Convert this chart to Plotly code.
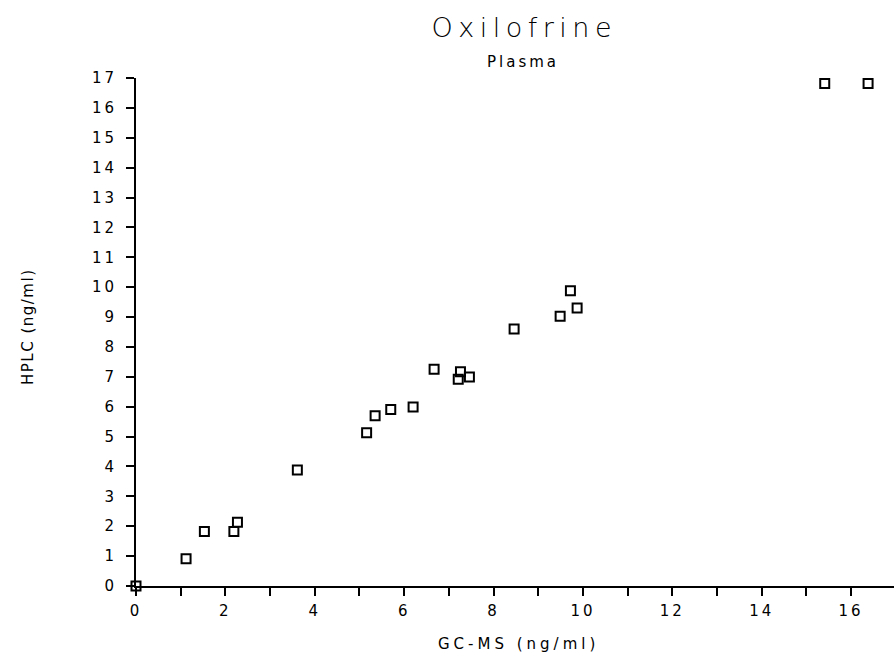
import plotly.graph_objects as go

# GC-MS vs HPLC oxilofrine concentrations in plasma (ng/ml)
gcms = [0.0, 1.12, 1.53, 2.19, 2.27, 3.61, 5.16, 5.35, 5.70, 6.20, 6.67,
        7.26, 7.21, 7.46, 8.46, 9.49, 9.72, 9.87, 15.41, 16.38]
hplc = [0.0, 0.91, 1.82, 1.82, 2.13, 3.88, 5.13, 5.70, 5.91, 5.99, 7.25,
        7.17, 6.92, 6.99, 8.60, 9.03, 9.88, 9.30, 16.82, 16.82]

x_tick_vals = [0, 2, 4, 6, 8, 10, 12, 14, 16]
x_tick_text = ["0", "2", "4", "6", "8", "10", "12", "14", "16"]
y_tick_vals = list(range(0, 18))
y_tick_text = [str(v) for v in y_tick_vals]

title_text = "Oxilofrine"
subtitle_text = "Plasma"
x_title = "GC-MS (ng/ml)"
y_title = "HPLC (ng/ml)"

FONT = "DejaVu Sans"
W, H = 894, 658
L, R, T, B = 136, 0, 78, 72
PW, PH = W - L - R, H - T - B


def px_x(px):
    """pixel column -> paper x"""
    return (px - L) / PW


def px_y(py):
    """pixel row -> paper y"""
    return (H - B - py) / PH


fig = go.Figure()
fig.add_trace(go.Scatter(
    x=gcms, y=hplc, mode="markers",
    marker=dict(symbol="square-open", size=9, color="black",
                line=dict(width=2, color="black")),
    cliponaxis=False, showlegend=False,
))

fig.update_layout(
    width=W, height=H,
    margin=dict(l=L, r=R, t=T, b=B),
    plot_bgcolor="white", paper_bgcolor="white",
    font=dict(family=FONT, color="black", size=15),
    xaxis=dict(
        range=[0, 16.96], showgrid=False, zeroline=False,
        showline=True, linecolor="black", linewidth=2,
        ticks="outside", ticklen=8, tickwidth=2, tickcolor="black",
        tickvals=x_tick_vals, ticktext=x_tick_text,
        minor=dict(dtick=1, tick0=0, ticks="outside", ticklen=8,
                   tickwidth=2, tickcolor="black"),
        tickfont=dict(size=15), ticklabelstandoff=2,
    ),
    yaxis=dict(
        range=[0, 17], showgrid=False, zeroline=False,
        showline=True, linecolor="black", linewidth=2,
        ticks="outside", ticklen=8, tickwidth=2, tickcolor="black",
        tickvals=y_tick_vals, ticktext=y_tick_text,
        tickfont=dict(size=15), ticklabelstandoff=6,
    ),
    annotations=[
        dict(text=title_text, x=px_x(524), y=px_y(28), xref="paper", yref="paper",
             showarrow=False, font=dict(size=27, weight=200),
             xanchor="center", yanchor="middle"),
        dict(text=subtitle_text, x=px_x(523), y=px_y(62), xref="paper", yref="paper",
             showarrow=False, font=dict(size=15),
             xanchor="center", yanchor="middle"),
        dict(text=x_title, x=px_x(518), y=px_y(644), xref="paper", yref="paper",
             showarrow=False, font=dict(size=15),
             xanchor="center", yanchor="middle"),
        dict(text=y_title, x=px_x(28), y=px_y(326), xref="paper", yref="paper",
             showarrow=False, font=dict(size=15), textangle=-90,
             xanchor="center", yanchor="middle"),
    ],
)

# wide plotter-style letter spacing for the lettering
spacing_js = """
var gaps = {"%s": "5.5px", "%s": "3px", "%s": "4px", "%s": "1.5px"};
document.querySelectorAll('.annotation-text').forEach(function (t) {
    var g = gaps[t.textContent];
    if (g) { t.style.letterSpacing = g; }
});
document.querySelectorAll('.xtick text, .ytick text').forEach(function (t) {
    t.style.letterSpacing = '3px';
});
""" % (title_text, subtitle_text, x_title, y_title)

fig.write_html("out.html", post_script=spacing_js)
